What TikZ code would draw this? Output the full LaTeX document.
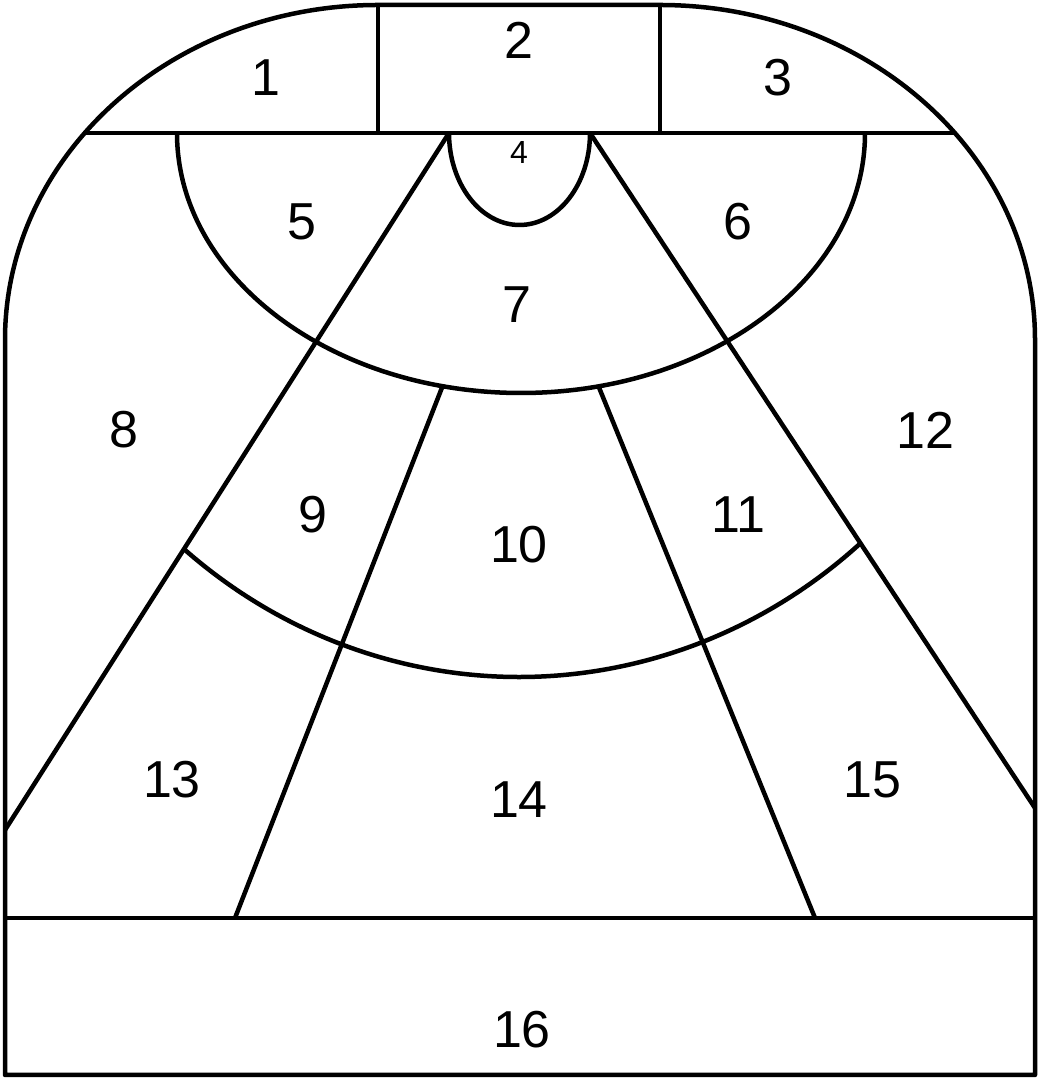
\documentclass[tikz,border=0pt]{standalone}
\usepackage{fontspec}
\setmainfont{Liberation Sans}
\usepackage{tikz}

\tikzset{
  court/.style={line width=4.5pt,line join=round},
  zone/.style={font=\fontsize{52}{52}\selectfont,inner sep=0pt},
  small zone/.style={font=\fontsize{32}{32}\selectfont,inner sep=0pt}
}

\begin{document}
\begin{tikzpicture}[x=1pt,y=1pt,court]
  \useasboundingbox (0,0) rectangle (1041,1078);

  % outline
  \draw (5,3) -- (5,738) arc[start angle=180,end angle=90,x radius=373pt,y radius=335pt]
        -- (660,1073) arc[start angle=90,end angle=0,x radius=375pt,y radius=335pt]
        -- (1035,3) -- cycle;

  \coordinate (ftL) at (85,945);
  \coordinate (ftR) at (955,945);
  \coordinate (keyL) at (449,945);
  \coordinate (keyR) at (590,945);
  \coordinate (wingL) at (5,248);
  \coordinate (wingR) at (1035,270);

  % top row and key
  \draw (ftL) -- (ftR);
  \draw (378,945) -- (378,1073);
  \draw (660,945) -- (660,1073);
  \draw (keyL) arc[start angle=180,end angle=360,x radius=70.5pt,y radius=92pt];

  % arcs
  \draw (177,945) arc[start angle=180,end angle=360,x radius=344pt,y radius=260pt];
  \begin{scope}
    \clip (keyL) -- (wingL) -- (wingR) -- (keyR) -- cycle;
    \draw (519,945) ++(220:520pt and 544pt)
          arc[start angle=220,end angle=320,x radius=520pt,y radius=544pt];
  \end{scope}

  % diagonals
  \draw (keyL) -- (wingL);
  \draw (keyR) -- (wingR);
  \draw (443,693) -- (235,160);
  \draw (598,693) -- (815,160);

  % baseline
  \draw (5,160) -- (1035,160);

  % labels
  \foreach \n/\x/\y in {1/266/1000, 2/519/1038, 3/778/1000, 5/302/856, 6/738/856,
      7/517/773, 8/124/648, 9/313/563, 10/519/533, 11/738/563, 12/925/648,
      13/172/298, 14/519/278, 15/872/298, 16/522/48}
    \node[zone] (z\n) at (\x,\y) {\n};
  \node[small zone] (z4) at (519,925) {4};
\end{tikzpicture}
\end{document}
